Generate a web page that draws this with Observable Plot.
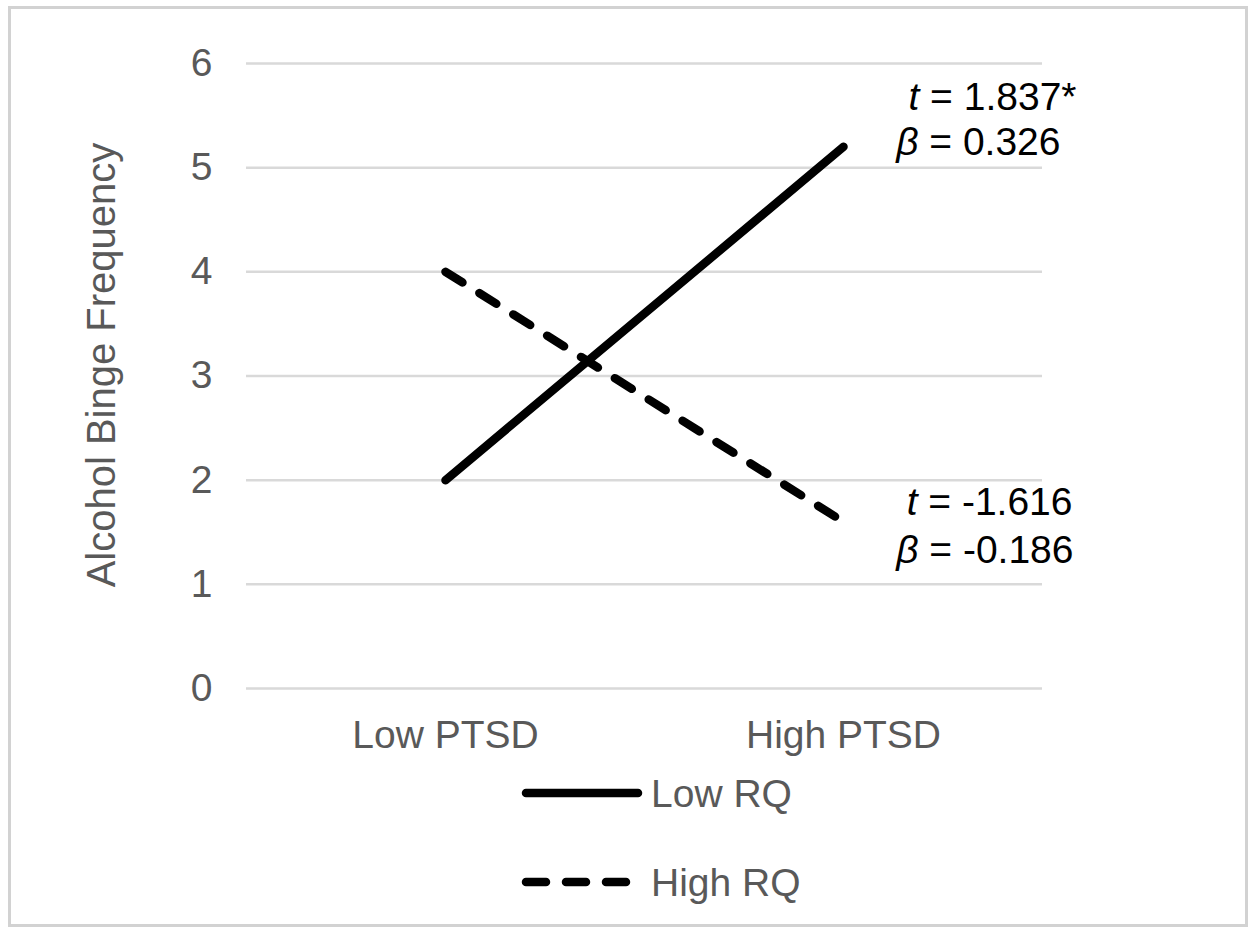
<!DOCTYPE html>
<html>
<head>
<meta charset="utf-8">
<script src="https://cdn.jsdelivr.net/npm/d3@7"></script>
<script src="https://cdn.jsdelivr.net/npm/@observablehq/plot@0.6"></script>
<style>
  html, body { margin: 0; padding: 0; background: #fff; }
  #wrap { position: relative; width: 1260px; height: 939px; overflow: hidden; font-family: "Liberation Sans", Arial, sans-serif; }
  #frame { position: absolute; left: 8px; top: 6px; width: 1240px; height: 921px; border: 3px solid #d2d2d2; box-sizing: border-box; pointer-events: none; }
  #chart { position: absolute; left: 0; top: 0; }
  #legend { position: absolute; left: 0; top: 760px; }
</style>
</head>
<body>
<div id="wrap">
  <div id="chart"></div>
  <svg id="legend" width="1260" height="179"></svg>
  <div id="frame"></div>
</div>
<script>
// ---- data ----
const categories = ["Low PTSD", "High PTSD"];
const seriesNames = ["Low RQ", "High RQ"];
const lowRQ = [2.0, 5.2];
const highRQ = [4.0, 1.6];
const yTicks = [0, 1, 2, 3, 4, 5, 6];
const yLabel = "Alcohol Binge Frequency";
const annotLow = ["t = 1.837*", "β = 0.326"];
const annotHigh = ["t = -1.616", "β = -0.186"];

const rows = [];
categories.forEach((c, i) => {
  rows.push({series: seriesNames[0], cat: c, value: lowRQ[i]});
  rows.push({series: seriesNames[1], cat: c, value: highRQ[i]});
});

const FONT = "Liberation Sans, Arial, sans-serif";
const GRAY = "#595959";
const FS = 39;
const dash = "20,20";

const annText = (txt, seriesVals, dx, dy) =>
  Plot.text([txt], {
    x: () => categories[1], y: () => seriesVals[1], text: d => d,
    textAnchor: "end", dx, dy, fontSize: FS, fill: "#000"
  });

const plot = Plot.plot({
  width: 1260,
  height: 760,
  marginLeft: 246,
  marginRight: 218,
  marginTop: 63,
  marginBottom: 72,
  style: {fontFamily: FONT, background: "transparent"},
  x: {type: "point", domain: categories, padding: 0.5},
  y: {domain: [0, 6]},
  marks: [
    Plot.gridY(yTicks, {stroke: "#d9d9d9", strokeOpacity: 1, strokeWidth: 2.5}),
    Plot.axisY(yTicks, {tickSize: 0, tickPadding: 34, fontSize: FS, color: GRAY, label: null, tickFormat: d3.format("d")}),
    Plot.axisX({tickSize: 0, tickPadding: 32, fontSize: FS, color: GRAY, label: null}),
    Plot.text([yLabel], {frameAnchor: "left", textAnchor: "middle", rotate: -90, dx: -144, dy: -11, fontSize: 40, fill: GRAY, text: d => d}),
    Plot.line(rows.filter(d => d.series === seriesNames[1]), {
      x: "cat", y: "value", stroke: "#000", strokeWidth: 8.5, strokeLinecap: "round", strokeDasharray: dash
    }),
    Plot.line(rows.filter(d => d.series === seriesNames[0]), {
      x: "cat", y: "value", stroke: "#000", strokeWidth: 8.5, strokeLinecap: "round"
    }),
    annText(annotLow[0], lowRQ, 233, -49),
    annText(annotLow[1], lowRQ, 217, -4),
    annText(annotHigh[0], highRQ, 229, -19),
    annText(annotHigh[1], highRQ, 230, 29)
  ]
});

// italicize the leading statistic symbol in annotations
const annSet = new Set([...annotLow, ...annotHigh]);
plot.querySelectorAll("text").forEach(t => {
  const s = t.textContent;
  if (!annSet.has(s)) return;
  const sym = s.slice(0, 1), rest = s.slice(1);
  t.textContent = "";
  const a = document.createElementNS("http://www.w3.org/2000/svg", "tspan");
  a.setAttribute("font-style", "italic");
  a.style.fontStyle = "italic";
  a.textContent = sym;
  const b = document.createElementNS("http://www.w3.org/2000/svg", "tspan");
  b.textContent = rest;
  t.appendChild(a); t.appendChild(b);
});

document.getElementById("chart").appendChild(plot);

// ---- legend ----
const leg = d3.select("#legend");
const legendStyles = [null, dash];
const rowsY = [33, 122];
seriesNames.forEach((name, i) => {
  leg.append("line")
    .attr("x1", 526).attr("x2", i === 0 ? 638 : 628)
    .attr("y1", rowsY[i]).attr("y2", rowsY[i])
    .attr("stroke", "#000").attr("stroke-width", 8.5).attr("stroke-linecap", "round")
    .attr("stroke-dasharray", legendStyles[i]);
  leg.append("text")
    .attr("x", 651).attr("y", rowsY[i] + 14)
    .attr("font-family", FONT).attr("font-size", FS).attr("fill", GRAY)
    .text(name);
});
</script>
</body>
</html>
